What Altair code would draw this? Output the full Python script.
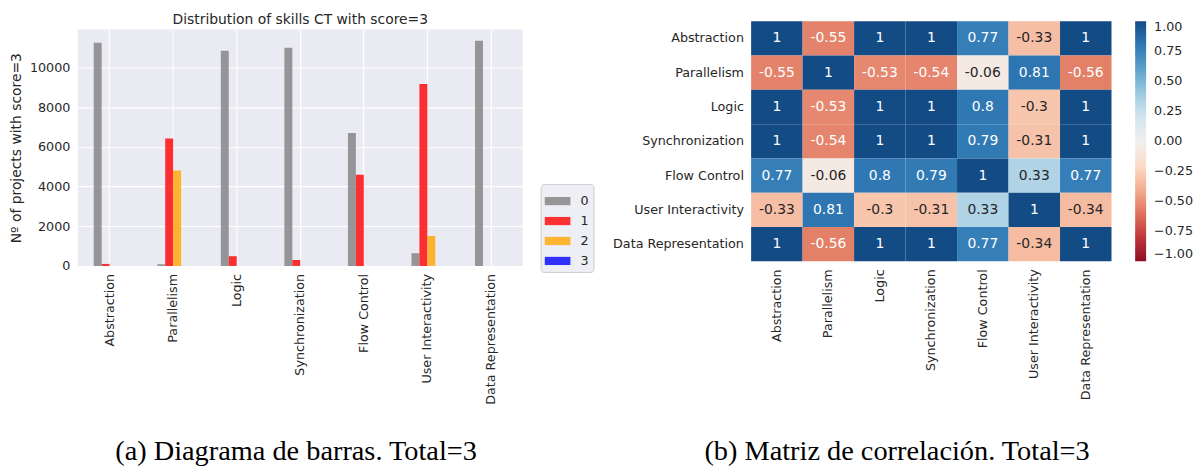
import altair as alt
import pandas as pd

# ---------------- data ----------------
skills = ["Abstraction", "Parallelism", "Logic", "Synchronization",
          "Flow Control", "User Interactivity", "Data Representation"]
scores = ["0", "1", "2", "3"]
count_score0 = [11240, 85, 10840, 10990, 6700, 640, 11340]
count_score1 = [100, 6420, 490, 300, 4590, 9160, 0]
count_score2 = [0, 4810, 0, 0, 0, 1510, 0]
count_score3 = [0, 0, 0, 0, 0, 0, 0]
score_colors = ["gray", "red", "orange", "blue"]

corr_abstraction = [1, -0.55, 1, 1, 0.77, -0.33, 1]
corr_parallelism = [-0.55, 1, -0.53, -0.54, -0.06, 0.81, -0.56]
corr_logic = [1, -0.53, 1, 1, 0.8, -0.3, 1]
corr_synchronization = [1, -0.54, 1, 1, 0.79, -0.31, 1]
corr_flow_control = [0.77, -0.06, 0.8, 0.79, 1, 0.33, 0.77]
corr_user_interactivity = [-0.33, 0.81, -0.3, -0.31, 0.33, 1, -0.34]
corr_data_representation = [1, -0.56, 1, 1, 0.77, -0.34, 1]
colorbar_ticks = [1.0, 0.75, 0.5, 0.25, 0.0, -0.25, -0.5, -0.75, -1.0]

title_a = "Distribution of skills CT with score=3"
ytitle_a = "Nº of projects with score=3"
caption_a = "(a) Diagrama de barras. Total=3"
caption_b = "(b) Matriz de correlación. Total=3"

# ---------------- tables ----------------
counts = [count_score0, count_score1, count_score2, count_score3]
bar_rows = []
for s, vals in zip(scores, counts):
    for sk, v in zip(skills, vals):
        bar_rows.append({"skill": sk, "score": s, "count": v})
bar_df = pd.DataFrame(bar_rows)

corr = [corr_abstraction, corr_parallelism, corr_logic, corr_synchronization,
        corr_flow_control, corr_user_interactivity, corr_data_representation]
heat_rows = []
for r, row in zip(skills, corr):
    for c, v in zip(skills, row):
        heat_rows.append({"row": r, "col": c, "v": v, "label": f"{v:.2g}"})
heat_df = pd.DataFrame(heat_rows)

TXT = "#262626"
FONT = "DejaVu Sans"
CAP_FONT = "Liberation Serif"
CAP_SIZE = 28.4

# offset slots: one empty slot on each side -> 4 bars fill half of each group
offset_domain = ["pad_l"] + scores + ["pad_r"]

# ---------------- (a) bar chart ----------------
bars = alt.Chart(bar_df).mark_bar(opacity=0.8).encode(
    x=alt.X("skill:N", sort=skills,
            scale=alt.Scale(paddingInner=0, paddingOuter=0),
            axis=alt.Axis(title=None, labelAngle=-90, labelAlign="right",
                          labelBaseline="middle", labelPadding=7.5,
                          ticks=False, domain=False, grid=True,
                          gridColor="white", gridWidth=1.1,
                          labelFontSize=12.75, labelColor=TXT)),
    xOffset=alt.XOffset("score:N",
                        scale=alt.Scale(domain=offset_domain,
                                        paddingInner=0, paddingOuter=1)),
    y=alt.Y("count:Q",
            scale=alt.Scale(domain=[0, 11907], nice=False),
            axis=alt.Axis(title=ytitle_a, values=[0, 2000, 4000, 6000, 8000, 10000],
                          format="d", ticks=False, domain=False, grid=True,
                          gridColor="white", gridWidth=1.1,
                          labelPadding=8, labelFontSize=12.75, labelColor=TXT,
                          titleFontSize=13.9, titleFontWeight="normal",
                          titleColor=TXT, titlePadding=6)),
    color=alt.Color("score:N", sort=scores,
                    scale=alt.Scale(domain=scores, range=score_colors),
                    legend=alt.Legend(title=None, orient="none",
                                      legendX=464, legendY=155,
                                      fillColor="#eeeef5", strokeColor="#cccccc",
                                      cornerRadius=3, padding=4,
                                      symbolType="M-1,-0.32H1V0.32H-1Z",
                                      symbolSize=660, symbolOpacity=0.8,
                                      symbolStrokeWidth=0,
                                      labelFontSize=12.75, labelColor=TXT,
                                      labelOffset=10, rowPadding=-0.5)),
)

title_mark = alt.Chart(pd.DataFrame({"t": [title_a]})).mark_text(
    font=FONT, fontSize=13.9, color=TXT, align="center", baseline="alphabetic"
).encode(text="t:N", x=alt.value(223), y=alt.value(-5.2))

cap_a = alt.Chart(pd.DataFrame({"t": [caption_a]})).mark_text(
    font=CAP_FONT, fontSize=CAP_SIZE, color="black",
    align="center", baseline="alphabetic"
).encode(text="t:N", x=alt.value(218.8), y=alt.value(432))

# invisible layout anchor: fixes the top-left corner of the whole figure
anchor = alt.Chart(pd.DataFrame({"t": [""]})).mark_point(
    size=0, opacity=0, strokeWidth=0
).encode(x=alt.value(-69.7), y=alt.value(-20.3))

left = alt.layer(bars, title_mark, cap_a, anchor).properties(
    width=446, height=237,
    view=alt.ViewBackground(fill="#eaeaf2", strokeWidth=0),
)

# ---------------- (b) heatmap ----------------
# heatmap sits 8.3 px higher than the bar panel
hx = alt.X("col:N", sort=skills,
           scale=alt.Scale(paddingInner=0, paddingOuter=0),
           axis=alt.Axis(title=None, labelAngle=-90, labelAlign="right",
                         labelBaseline="middle", labelPadding=7.5,
                         ticks=False, domain=False,
                         labelFontSize=12.75, labelColor=TXT))
hy = alt.Y("row:N", sort=skills,
           scale=alt.Scale(paddingInner=0, paddingOuter=0, range=[-8.3, 232.4]),
           axis=alt.Axis(title=None, ticks=False, domain=False,
                         labelPadding=7.7, labelFontSize=12.75, labelColor=TXT))

rect = alt.Chart(heat_df).mark_rect().encode(
    x=hx, y=hy,
    color=alt.Color("v:Q",
                    scale=alt.Scale(scheme="redblue", domain=[-1, 1]),
                    legend=alt.Legend(title=None, orient="none",
                                      legendX=385, legendY=-8.3,
                                      direction="vertical", padding=0,
                                      gradientLength=240.7, gradientThickness=11,
                                      gradientStrokeWidth=0,
                                      values=colorbar_ticks, format=".2f",
                                      labelOverlap=False, labelFontSize=12.75,
                                      labelBaseline="middle",
                                      labelColor=TXT, labelOffset=8)),
)
annot = alt.Chart(heat_df).mark_text(fontSize=13.9, font=FONT,
                                     baseline="middle", align="center").encode(
    x=hx, y=hy, text="label:N",
    color=alt.condition("abs(datum.v) > 0.5", alt.value("white"), alt.value(TXT)),
)
cap_b = alt.Chart(pd.DataFrame({"t": [caption_b]})).mark_text(
    font=CAP_FONT, fontSize=CAP_SIZE, color="black",
    align="center", baseline="alphabetic"
).encode(text="t:N", x=alt.value(146.3), y=alt.value(432))

right = alt.layer(rect, annot, cap_b).properties(width=361.3, height=232.4)

chart = alt.hconcat(left, right, spacing=229, bounds="flush").properties(
    padding=0
).configure(font=FONT).configure_view(strokeWidth=0)

chart.save("out.html", embed_options={"renderer": "svg", "actions": False})
